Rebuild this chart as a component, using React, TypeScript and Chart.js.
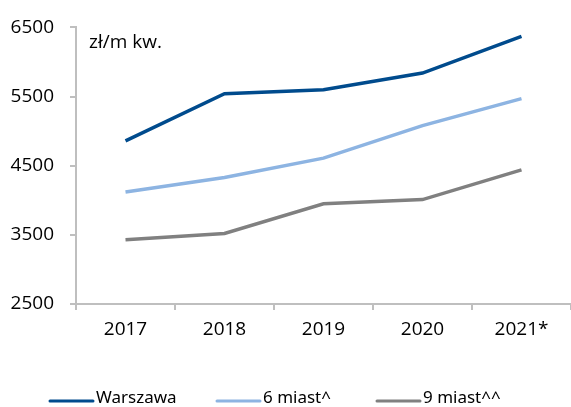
import React, { useEffect, useRef } from "react";
import { Chart, registerables } from "chart.js";

Chart.register(...registerables);

const categories = ["2017", "2018", "2019", "2020", "2021*"];
const warszawa = [4860, 5540, 5600, 5840, 6370];
const miast6 = [4120, 4330, 4610, 5080, 5470];
const miast9 = [3430, 3520, 3950, 4010, 4440];
const seriesLabels = ["Warszawa", "6 miast^", "9 miast^^"];
const seriesColors = ["#004B8D", "#8DB4E2", "#808080"];
const unitLabel = "zł/m kw.";

const TICK_FONT = "'Open Sans', 'DejaVu Sans', sans-serif";
const LEGEND_FONT = "'Noto Sans', 'DejaVu Sans', sans-serif";

export default function App() {
  const ref = useRef<HTMLCanvasElement | null>(null);

  useEffect(() => {
    if (!ref.current) return;
    const overlay = {
      id: "overlay",
      afterDraw(chart: any) {
        const ctx = chart.ctx;
        ctx.save();
        ctx.fillStyle = "#000";
        ctx.font = `19px ${TICK_FONT}`;
        ctx.textBaseline = "middle";
        ctx.textAlign = "left";
        ctx.fillText(unitLabel, 89, 43);
        // legend
        const xs = [50, 217, 377];
        ctx.font = `17px ${LEGEND_FONT}`;
        chart.data.datasets.forEach((ds: any, i: number) => {
          const x = xs[i];
          ctx.strokeStyle = ds.borderColor;
          ctx.lineWidth = 3;
          ctx.lineCap = "round";
          ctx.beginPath();
          ctx.moveTo(x, 401);
          ctx.lineTo(x + 43, 401);
          ctx.stroke();
          ctx.fillStyle = "#000";
          ctx.fillText(ds.label, x + 46, 398);
        });
        ctx.restore();
      },
    };
    const chart = new Chart(ref.current, {
      type: "line",
      data: {
        labels: categories,
        datasets: [warszawa, miast6, miast9].map((d, i) => ({
          label: seriesLabels[i],
          data: d,
          borderColor: seriesColors[i],
          backgroundColor: seriesColors[i],
          borderWidth: 3.5,
          pointRadius: 0,
          tension: 0,
          fill: false,
        })),
      },
      options: {
        animation: false,
        responsive: false,
        maintainAspectRatio: false,
        layout: { padding: { top: 25, right: 0, left: 0, bottom: 0 } },
        plugins: { legend: { display: false }, tooltip: { enabled: false } },
        scales: {
          x: {
            offset: true,
            grid: {
              offset: true,
              drawOnChartArea: false,
              drawTicks: true,
              tickLength: 6,
              color: "#BFBFBF",
              lineWidth: 2,
            },
            border: { color: "#BFBFBF", width: 2 },
            ticks: {
              color: "#000",
              font: { family: TICK_FONT, size: 19 },
              padding: 8,
              maxRotation: 0,
            },
            afterFit: (s: any) => {
              s.height = 103;
            },
          },
          y: {
            min: 2500,
            max: 6500,
            grid: {
              drawOnChartArea: false,
              drawTicks: true,
              tickLength: 6,
              color: "#BFBFBF",
              lineWidth: 2,
            },
            border: { color: "#BFBFBF", width: 2 },
            ticks: {
              stepSize: 1000,
              color: "#000",
              font: { family: TICK_FONT, size: 19 },
              padding: 16,
              callback: (v: any) => String(v),
            },
            afterFit: (s: any) => {
              s.width = 76;
            },
          },
        },
      },
      plugins: [overlay],
    });
    return () => chart.destroy();
  }, []);

  return (
    <div style={{ position: "absolute", left: 0, top: 0, width: 571, height: 407 }}>
      <canvas ref={ref} width={571} height={407} style={{ display: "block" }} />
    </div>
  );
}
